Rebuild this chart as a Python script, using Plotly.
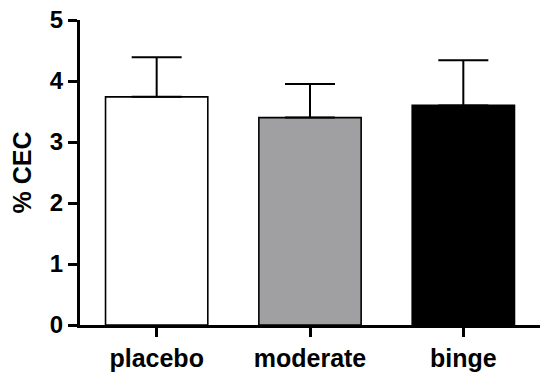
import plotly.graph_objects as go

categories = ["placebo", "moderate", "binge"]
means = [3.74, 3.40, 3.60]
sem = [0.65, 0.55, 0.74]
bar_colors = ["#FFFFFF", "#A0A0A3", "#000000"]
y_ticks = [0, 1, 2, 3, 4, 5]

font_family = "Arial, 'Liberation Sans', Helvetica, sans-serif"

fig = go.Figure()
fig.add_trace(go.Bar(
    x=categories,
    y=means,
    width=0.667,
    marker=dict(color=bar_colors, line=dict(color="#000000", width=1.6)),
    error_y=dict(type="data", array=sem, arrayminus=[0, 0, 0], symmetric=False,
                 color="#000000", thickness=2, width=25),
    showlegend=False,
))

fig.update_layout(
    width=550, height=373,
    margin=dict(l=80, r=10, t=20, b=48),
    plot_bgcolor="white", paper_bgcolor="white",
    font=dict(family=font_family, color="#000000", size=20, weight="bold"),
    bargap=0.333,
)
fig.update_xaxes(
    range=[-0.5, 2.5], automargin=False,
    showline=True, linecolor="#000000", linewidth=3,
    ticks="outside", ticklen=9, tickwidth=3, tickcolor="#000000",
    tickfont=dict(size=25, family=font_family, weight="bold"),
    showgrid=False, zeroline=False,
)
fig.update_yaxes(
    range=[0, 5], automargin=False,
    tickvals=y_ticks,
    showline=True, linecolor="#000000", linewidth=3,
    ticks="outside", ticklen=9, tickwidth=3, tickcolor="#000000",
    tickfont=dict(size=24, family=font_family, weight="bold"),
    title=dict(text="% CEC", font=dict(size=25, family=font_family, weight="bold"), standoff=12),
    showgrid=False, zeroline=False,
)

# remove the default 8px page margin so the figure fills the window exactly
fig.write_html("out.html", config={"displayModeBar": False},
               post_script="document.body.style.margin='0';")
